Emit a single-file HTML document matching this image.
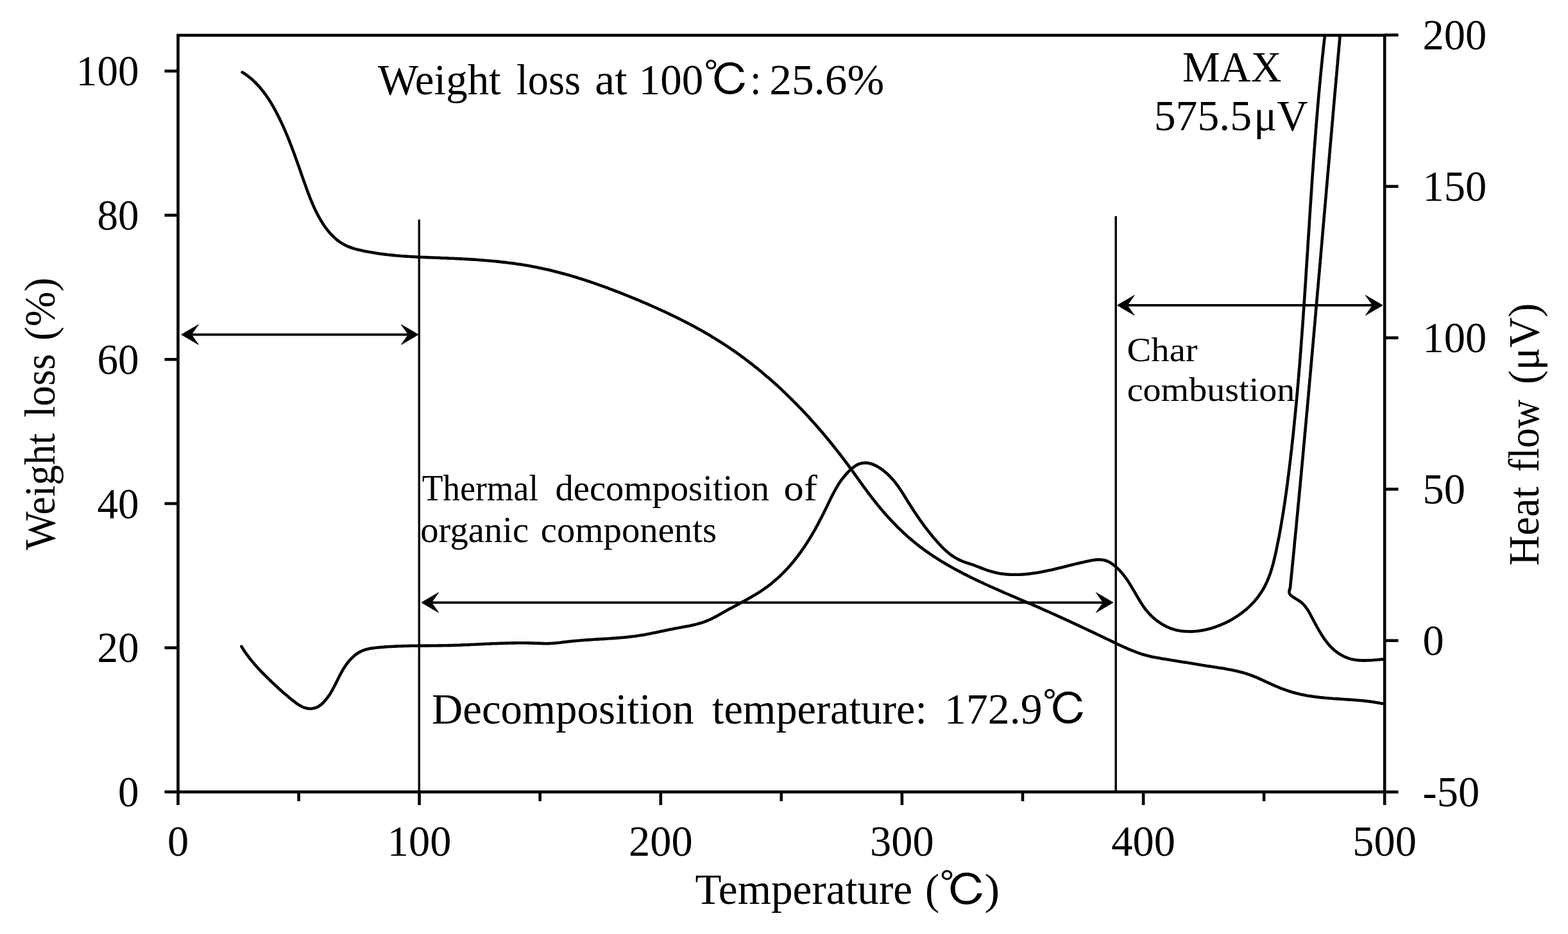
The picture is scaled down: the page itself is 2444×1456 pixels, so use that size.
<!DOCTYPE html><html><head><meta charset="utf-8"><style>html,body{margin:0;padding:0;background:#fff;}svg{display:block;}</style></head><body>
<svg width="2444" height="1456" viewBox="0 0 2444 1456">
<rect width="2444" height="1456" fill="#fff"/>
<defs><clipPath id="plot"><rect x="277.5" y="55.0" width="1880.7" height="1179.5"/></clipPath></defs>
<g stroke="#000" fill="none" stroke-width="4.6" stroke-linecap="butt">
<rect x="277.5" y="55.0" width="1880.7" height="1179.5"/>
<line x1="256.5" y1="1234.5" x2="277.5" y2="1234.5"/>
<line x1="256.5" y1="1009.8" x2="277.5" y2="1009.8"/>
<line x1="256.5" y1="785.0" x2="277.5" y2="785.0"/>
<line x1="256.5" y1="560.3" x2="277.5" y2="560.3"/>
<line x1="256.5" y1="335.5" x2="277.5" y2="335.5"/>
<line x1="256.5" y1="110.8" x2="277.5" y2="110.8"/>
<line x1="2158.2" y1="1234.6" x2="2179.5" y2="1234.6"/>
<line x1="2158.2" y1="998.6" x2="2179.5" y2="998.6"/>
<line x1="2158.2" y1="762.6" x2="2179.5" y2="762.6"/>
<line x1="2158.2" y1="526.6" x2="2179.5" y2="526.6"/>
<line x1="2158.2" y1="290.6" x2="2179.5" y2="290.6"/>
<line x1="2158.2" y1="54.6" x2="2179.5" y2="54.6"/>
<line x1="277.5" y1="1234.5" x2="277.5" y2="1255.0"/>
<line x1="465.6" y1="1234.5" x2="465.6" y2="1249.0"/>
<line x1="653.6" y1="1234.5" x2="653.6" y2="1255.0"/>
<line x1="841.7" y1="1234.5" x2="841.7" y2="1249.0"/>
<line x1="1029.8" y1="1234.5" x2="1029.8" y2="1255.0"/>
<line x1="1217.8" y1="1234.5" x2="1217.8" y2="1249.0"/>
<line x1="1405.9" y1="1234.5" x2="1405.9" y2="1255.0"/>
<line x1="1594.0" y1="1234.5" x2="1594.0" y2="1249.0"/>
<line x1="1782.1" y1="1234.5" x2="1782.1" y2="1255.0"/>
<line x1="1970.1" y1="1234.5" x2="1970.1" y2="1249.0"/>
<line x1="2158.2" y1="1234.5" x2="2158.2" y2="1255.0"/>
</g>
<g stroke="#000" fill="none" stroke-width="4.6" stroke-linejoin="round" stroke-linecap="round" clip-path="url(#plot)">
<path d="M377.6,112.6 L380.2,114.2 L382.7,115.9 L385.1,117.7 L387.5,119.5 L389.9,121.4 L392.2,123.3 L394.4,125.3 L396.6,127.4 L398.7,129.5 L400.8,131.6 L402.8,133.8 L404.8,136.0 L406.7,138.3 L408.6,140.6 L410.5,143.0 L412.3,145.4 L414.1,147.8 L415.8,150.3 L417.5,152.8 L419.2,155.3 L420.8,157.8 L422.4,160.4 L423.9,163.0 L425.5,165.6 L426.9,168.2 L428.4,170.9 L429.9,173.5 L431.3,176.2 L432.7,178.9 L434.0,181.6 L435.4,184.3 L436.7,187.0 L438.0,189.7 L439.2,192.4 L440.5,195.1 L441.7,197.8 L443.0,200.6 L444.2,203.3 L445.3,206.1 L446.5,208.8 L447.7,211.6 L448.8,214.4 L449.9,217.1 L451.0,219.9 L452.1,222.7 L453.2,225.5 L454.3,228.3 L455.3,231.1 L456.4,233.9 L457.4,236.7 L458.5,239.5 L459.5,242.3 L460.5,245.2 L461.5,248.0 L462.6,250.8 L463.6,253.6 L464.6,256.5 L465.6,259.3 L466.6,262.1 L467.6,265.0 L468.6,267.8 L469.5,270.6 L470.5,273.5 L471.5,276.3 L472.5,279.2 L473.5,282.0 L474.5,284.8 L475.6,287.7 L476.6,290.5 L477.6,293.4 L478.6,296.2 L479.7,299.0 L480.7,301.9 L481.8,304.7 L482.9,307.5 L484.0,310.3 L485.2,313.1 L486.3,315.9 L487.5,318.7 L488.7,321.4 L490.0,324.2 L491.2,326.9 L492.5,329.6 L493.9,332.3 L495.3,335.0 L496.7,337.6 L498.2,340.2 L499.7,342.9 L501.3,345.4 L502.9,348.0 L504.5,350.5 L506.2,353.0 L508.0,355.5 L509.8,357.9 L511.7,360.3 L513.6,362.6 L515.6,364.8 L517.7,367.0 L519.8,369.1 L522.0,371.1 L524.2,373.1 L526.5,374.9 L528.9,376.7 L531.3,378.3 L533.8,379.9 L536.4,381.3 L539.0,382.7 L541.7,383.9 L544.5,385.0 L547.3,386.0 L550.1,387.0 L553.0,387.9 L555.9,388.7 L558.9,389.4 L561.9,390.1 L564.8,390.8 L567.8,391.4 L570.8,392.0 L573.8,392.6 L576.8,393.1 L579.8,393.6 L582.7,394.1 L585.7,394.6 L588.7,395.0 L591.7,395.5 L594.7,395.9 L597.7,396.3 L600.7,396.6 L603.6,397.0 L606.6,397.3 L609.6,397.6 L612.6,397.9 L615.6,398.2 L618.6,398.5 L621.6,398.7 L624.5,399.0 L627.5,399.2 L630.5,399.4 L633.5,399.6 L636.5,399.8 L639.5,400.0 L642.5,400.1 L645.5,400.3 L648.5,400.5 L651.5,400.6 L654.4,400.7 L657.4,400.9 L660.4,401.0 L663.4,401.1 L666.4,401.3 L669.4,401.4 L672.4,401.5 L675.4,401.6 L678.4,401.7 L681.4,401.8 L684.4,401.9 L687.4,402.1 L690.4,402.2 L693.4,402.3 L696.4,402.4 L699.4,402.6 L702.5,402.7 L705.5,402.8 L708.5,403.0 L711.5,403.1 L714.5,403.2 L717.5,403.4 L720.5,403.6 L723.5,403.7 L726.5,403.9 L729.5,404.1 L732.5,404.3 L735.5,404.4 L738.6,404.6 L741.6,404.8 L744.6,405.0 L747.6,405.3 L750.6,405.5 L753.6,405.7 L756.6,406.0 L759.6,406.2 L762.6,406.5 L765.6,406.8 L768.6,407.0 L771.6,407.3 L774.6,407.6 L777.6,407.9 L780.6,408.3 L783.6,408.6 L786.6,408.9 L789.5,409.3 L792.5,409.7 L795.5,410.0 L798.5,410.4 L801.5,410.8 L804.4,411.3 L807.4,411.7 L810.4,412.1 L813.3,412.6 L816.3,413.1 L819.3,413.6 L822.2,414.1 L825.2,414.6 L828.1,415.1 L831.1,415.7 L834.0,416.2 L837.0,416.8 L839.9,417.4 L842.8,418.0 L845.8,418.7 L848.7,419.3 L851.6,420.0 L854.5,420.6 L857.5,421.3 L860.4,422.0 L863.3,422.7 L866.2,423.5 L869.1,424.2 L872.0,425.0 L874.9,425.7 L877.8,426.5 L880.7,427.3 L883.6,428.1 L886.5,428.9 L889.3,429.8 L892.2,430.6 L895.1,431.5 L898.0,432.3 L900.8,433.2 L903.7,434.1 L906.6,435.0 L909.4,435.9 L912.3,436.8 L915.1,437.8 L918.0,438.7 L920.8,439.7 L923.7,440.6 L926.5,441.6 L929.4,442.6 L932.2,443.6 L935.0,444.6 L937.9,445.6 L940.7,446.6 L943.5,447.7 L946.4,448.7 L949.2,449.8 L952.0,450.8 L954.8,451.9 L957.6,453.0 L960.4,454.0 L963.3,455.1 L966.1,456.2 L968.9,457.3 L971.7,458.4 L974.5,459.6 L977.3,460.7 L980.1,461.8 L982.8,462.9 L985.6,464.1 L988.4,465.2 L991.2,466.4 L994.0,467.5 L996.8,468.7 L999.5,469.9 L1002.3,471.1 L1005.1,472.2 L1007.9,473.4 L1010.6,474.6 L1013.4,475.8 L1016.1,477.0 L1018.9,478.3 L1021.7,479.5 L1024.4,480.7 L1027.1,482.0 L1029.9,483.2 L1032.6,484.5 L1035.4,485.7 L1038.1,487.0 L1040.8,488.3 L1043.5,489.6 L1046.2,490.9 L1048.9,492.2 L1051.7,493.5 L1054.3,494.8 L1057.0,496.1 L1059.7,497.5 L1062.4,498.8 L1065.1,500.2 L1067.8,501.6 L1070.4,502.9 L1073.1,504.3 L1075.8,505.7 L1078.4,507.1 L1081.1,508.6 L1083.7,510.0 L1086.3,511.4 L1089.0,512.9 L1091.6,514.3 L1094.2,515.8 L1096.8,517.3 L1099.4,518.8 L1102.0,520.3 L1104.6,521.8 L1107.2,523.3 L1109.7,524.9 L1112.3,526.4 L1114.9,528.0 L1117.4,529.6 L1119.9,531.2 L1122.5,532.8 L1125.0,534.4 L1127.5,536.0 L1130.0,537.6 L1132.5,539.3 L1135.0,540.9 L1137.5,542.6 L1140.0,544.3 L1142.5,546.0 L1144.9,547.7 L1147.4,549.4 L1149.8,551.2 L1152.3,552.9 L1154.7,554.7 L1157.1,556.5 L1159.5,558.2 L1161.9,560.0 L1164.3,561.8 L1166.7,563.7 L1169.1,565.5 L1171.5,567.3 L1173.8,569.2 L1176.2,571.1 L1178.5,572.9 L1180.9,574.8 L1183.2,576.7 L1185.5,578.6 L1187.8,580.5 L1190.1,582.5 L1192.4,584.4 L1194.7,586.4 L1197.0,588.3 L1199.3,590.3 L1201.6,592.3 L1203.8,594.3 L1206.1,596.3 L1208.3,598.3 L1210.5,600.3 L1212.8,602.3 L1215.0,604.4 L1217.2,606.4 L1219.4,608.5 L1221.6,610.5 L1223.7,612.6 L1225.9,614.7 L1228.1,616.8 L1230.2,618.9 L1232.4,621.0 L1234.5,623.1 L1236.7,625.3 L1238.8,627.4 L1240.9,629.5 L1243.0,631.7 L1245.1,633.8 L1247.2,636.0 L1249.3,638.2 L1251.4,640.4 L1253.4,642.6 L1255.5,644.8 L1257.5,647.0 L1259.6,649.2 L1261.6,651.4 L1263.6,653.6 L1265.6,655.9 L1267.6,658.1 L1269.6,660.3 L1271.6,662.6 L1273.6,664.9 L1275.6,667.1 L1277.6,669.4 L1279.5,671.7 L1281.5,674.0 L1283.4,676.3 L1285.4,678.6 L1287.3,680.9 L1289.2,683.2 L1291.1,685.5 L1293.0,687.8 L1294.9,690.2 L1296.8,692.5 L1298.7,694.9 L1300.6,697.2 L1302.4,699.6 L1304.3,701.9 L1306.1,704.3 L1308.0,706.6 L1309.8,709.0 L1311.7,711.4 L1313.5,713.8 L1315.3,716.2 L1317.1,718.6 L1318.9,721.0 L1320.7,723.4 L1322.5,725.8 L1324.2,728.2 L1326.0,730.6 L1327.8,733.0 L1329.5,735.5 L1331.3,737.9 L1333.0,740.3 L1334.8,742.8 L1336.5,745.2 L1338.3,747.6 L1340.0,750.1 L1341.7,752.5 L1343.5,754.9 L1345.2,757.4 L1347.0,759.8 L1348.8,762.2 L1350.6,764.6 L1352.3,767.0 L1354.1,769.4 L1356.0,771.8 L1357.8,774.2 L1359.6,776.6 L1361.5,779.0 L1363.4,781.4 L1365.2,783.7 L1367.1,786.1 L1369.0,788.4 L1371.0,790.7 L1372.9,793.1 L1374.9,795.4 L1376.8,797.7 L1378.8,799.9 L1380.8,802.2 L1382.8,804.5 L1384.8,806.7 L1386.9,808.9 L1388.9,811.2 L1391.0,813.4 L1393.1,815.5 L1395.2,817.7 L1397.3,819.9 L1399.4,822.0 L1401.6,824.1 L1403.8,826.2 L1405.9,828.3 L1408.1,830.3 L1410.3,832.4 L1412.5,834.4 L1414.8,836.4 L1417.0,838.4 L1419.3,840.3 L1421.6,842.3 L1423.9,844.2 L1426.2,846.1 L1428.5,848.0 L1430.9,849.8 L1433.2,851.6 L1435.6,853.5 L1438.0,855.2 L1440.4,857.0 L1442.8,858.8 L1445.3,860.5 L1447.7,862.2 L1450.2,863.9 L1452.7,865.5 L1455.1,867.2 L1457.6,868.8 L1460.1,870.4 L1462.7,872.0 L1465.2,873.6 L1467.7,875.2 L1470.3,876.7 L1472.9,878.3 L1475.4,879.8 L1478.0,881.3 L1480.6,882.8 L1483.2,884.3 L1485.9,885.7 L1488.5,887.2 L1491.1,888.6 L1493.8,890.0 L1496.4,891.4 L1499.1,892.8 L1501.7,894.2 L1504.4,895.6 L1507.1,896.9 L1509.8,898.3 L1512.5,899.6 L1515.2,901.0 L1517.9,902.3 L1520.6,903.6 L1523.3,904.9 L1526.1,906.2 L1528.8,907.5 L1531.5,908.7 L1534.3,910.0 L1537.0,911.3 L1539.8,912.5 L1542.5,913.8 L1545.3,915.0 L1548.0,916.2 L1550.8,917.5 L1553.6,918.7 L1556.3,919.9 L1559.1,921.1 L1561.9,922.3 L1564.6,923.6 L1567.4,924.8 L1570.2,926.0 L1573.0,927.2 L1575.7,928.4 L1578.5,929.5 L1581.3,930.7 L1584.1,931.9 L1586.9,933.1 L1589.6,934.3 L1592.4,935.5 L1595.2,936.7 L1598.0,937.9 L1600.7,939.1 L1603.5,940.3 L1606.3,941.4 L1609.0,942.6 L1611.8,943.8 L1614.5,945.0 L1617.3,946.2 L1620.0,947.4 L1622.8,948.7 L1625.5,949.9 L1628.3,951.1 L1631.0,952.3 L1633.8,953.5 L1636.5,954.7 L1639.2,956.0 L1642.0,957.2 L1644.7,958.4 L1647.4,959.6 L1650.1,960.9 L1652.8,962.1 L1655.6,963.4 L1658.3,964.6 L1661.0,965.8 L1663.7,967.1 L1666.4,968.3 L1669.1,969.6 L1671.9,970.9 L1674.6,972.1 L1677.3,973.4 L1680.0,974.6 L1682.7,975.9 L1685.4,977.2 L1688.1,978.5 L1690.8,979.7 L1693.5,981.0 L1696.3,982.3 L1699.0,983.6 L1701.7,984.8 L1704.4,986.1 L1707.1,987.4 L1709.8,988.7 L1712.5,990.0 L1715.2,991.3 L1718.0,992.6 L1720.7,993.9 L1723.4,995.2 L1726.1,996.5 L1728.8,997.8 L1731.6,999.1 L1734.3,1000.4 L1737.0,1001.8 L1739.7,1003.1 L1742.5,1004.4 L1745.2,1005.7 L1748.0,1006.9 L1750.7,1008.2 L1753.5,1009.4 L1756.2,1010.6 L1759.0,1011.8 L1761.8,1013.0 L1764.6,1014.1 L1767.4,1015.2 L1770.2,1016.3 L1773.0,1017.3 L1775.8,1018.3 L1778.7,1019.3 L1781.5,1020.2 L1784.4,1021.0 L1787.2,1021.8 L1790.1,1022.5 L1793.0,1023.2 L1795.9,1023.9 L1798.9,1024.5 L1801.8,1025.1 L1804.7,1025.6 L1807.7,1026.1 L1810.6,1026.7 L1813.6,1027.1 L1816.5,1027.6 L1819.5,1028.1 L1822.4,1028.5 L1825.4,1029.0 L1828.4,1029.5 L1831.3,1029.9 L1834.3,1030.4 L1837.3,1030.9 L1840.2,1031.4 L1843.2,1031.9 L1846.1,1032.4 L1849.1,1032.8 L1852.1,1033.3 L1855.0,1033.8 L1858.0,1034.3 L1861.0,1034.8 L1864.0,1035.3 L1866.9,1035.8 L1869.9,1036.3 L1872.9,1036.8 L1875.9,1037.2 L1878.9,1037.7 L1881.8,1038.2 L1884.8,1038.6 L1887.8,1039.1 L1890.8,1039.5 L1893.8,1040.0 L1896.8,1040.4 L1899.8,1040.9 L1902.8,1041.4 L1905.7,1041.8 L1908.7,1042.3 L1911.7,1042.9 L1914.6,1043.4 L1917.6,1044.0 L1920.5,1044.5 L1923.5,1045.2 L1926.4,1045.8 L1929.3,1046.5 L1932.2,1047.2 L1935.1,1048.0 L1938.0,1048.8 L1940.8,1049.6 L1943.7,1050.5 L1946.5,1051.4 L1949.3,1052.4 L1952.1,1053.5 L1954.9,1054.6 L1957.7,1055.7 L1960.4,1056.9 L1963.2,1058.1 L1965.9,1059.4 L1968.6,1060.6 L1971.4,1061.9 L1974.1,1063.2 L1976.8,1064.4 L1979.6,1065.7 L1982.3,1066.9 L1985.1,1068.1 L1987.8,1069.3 L1990.6,1070.5 L1993.4,1071.7 L1996.1,1072.8 L1998.9,1073.9 L2001.7,1074.9 L2004.5,1075.9 L2007.4,1076.9 L2010.2,1077.8 L2013.0,1078.7 L2015.9,1079.5 L2018.8,1080.3 L2021.7,1081.1 L2024.6,1081.8 L2027.5,1082.4 L2030.4,1083.0 L2033.3,1083.6 L2036.3,1084.2 L2039.2,1084.7 L2042.2,1085.1 L2045.2,1085.6 L2048.1,1086.0 L2051.1,1086.4 L2054.1,1086.7 L2057.1,1087.1 L2060.1,1087.4 L2063.1,1087.7 L2066.1,1088.0 L2069.1,1088.2 L2072.1,1088.5 L2075.2,1088.7 L2078.2,1089.0 L2081.2,1089.2 L2084.2,1089.4 L2087.3,1089.6 L2090.3,1089.8 L2093.3,1090.0 L2096.3,1090.2 L2099.4,1090.4 L2102.4,1090.6 L2105.4,1090.8 L2108.4,1091.0 L2111.5,1091.2 L2114.5,1091.5 L2117.5,1091.7 L2120.5,1092.0 L2123.5,1092.3 L2126.5,1092.6 L2129.5,1092.9 L2132.4,1093.2 L2135.4,1093.6 L2138.4,1094.0 L2141.3,1094.4 L2144.3,1094.9 L2147.2,1095.4 L2150.2,1095.9 L2153.1,1096.4 L2156.0,1097.0"/>
<path d="M376.4,1007.8 L378.0,1010.4 L379.6,1012.9 L381.2,1015.4 L382.9,1017.9 L384.7,1020.3 L386.5,1022.7 L388.3,1025.1 L390.1,1027.5 L392.0,1029.8 L393.9,1032.1 L395.9,1034.4 L397.9,1036.7 L399.9,1039.0 L401.9,1041.2 L403.9,1043.4 L406.0,1045.6 L408.1,1047.8 L410.2,1049.9 L412.3,1052.1 L414.4,1054.2 L416.6,1056.3 L418.7,1058.4 L420.9,1060.5 L423.0,1062.6 L425.2,1064.6 L427.4,1066.7 L429.6,1068.7 L431.7,1070.7 L433.9,1072.7 L436.1,1074.7 L438.3,1076.7 L440.6,1078.7 L442.8,1080.7 L445.1,1082.6 L447.4,1084.6 L449.7,1086.5 L452.0,1088.5 L454.4,1090.4 L456.8,1092.3 L459.3,1094.2 L461.7,1096.1 L464.3,1097.9 L466.9,1099.5 L469.5,1101.0 L472.2,1102.3 L475.0,1103.3 L477.9,1104.1 L480.8,1104.5 L483.6,1104.7 L486.5,1104.6 L489.3,1104.1 L492.1,1103.3 L494.7,1102.2 L497.3,1100.7 L499.7,1099.0 L502.1,1097.0 L504.3,1094.8 L506.4,1092.5 L508.4,1090.1 L510.3,1087.7 L512.1,1085.2 L513.8,1082.7 L515.4,1080.2 L516.9,1077.6 L518.4,1075.0 L519.8,1072.3 L521.2,1069.7 L522.6,1067.0 L523.9,1064.3 L525.3,1061.7 L526.6,1059.0 L527.9,1056.3 L529.3,1053.6 L530.7,1050.9 L532.1,1048.3 L533.6,1045.6 L535.1,1043.0 L536.7,1040.5 L538.4,1037.9 L540.2,1035.4 L542.0,1033.0 L543.9,1030.6 L545.9,1028.3 L548.0,1026.1 L550.2,1024.1 L552.4,1022.1 L554.8,1020.2 L557.2,1018.5 L559.7,1017.0 L562.3,1015.6 L565.0,1014.4 L567.7,1013.3 L570.5,1012.4 L573.4,1011.7 L576.3,1011.1 L579.3,1010.6 L582.3,1010.2 L585.4,1009.8 L588.4,1009.5 L591.4,1009.2 L594.5,1008.9 L597.5,1008.7 L600.5,1008.4 L603.5,1008.2 L606.6,1008.0 L609.6,1007.9 L612.6,1007.7 L615.6,1007.6 L618.6,1007.4 L621.6,1007.3 L624.6,1007.2 L627.6,1007.1 L630.7,1007.0 L633.7,1007.0 L636.7,1006.9 L639.7,1006.8 L642.6,1006.8 L645.6,1006.8 L648.6,1006.7 L651.6,1006.7 L654.6,1006.7 L657.6,1006.6 L660.6,1006.6 L663.6,1006.6 L666.6,1006.6 L669.6,1006.6 L672.6,1006.5 L675.6,1006.5 L678.6,1006.5 L681.6,1006.5 L684.6,1006.4 L687.5,1006.4 L690.5,1006.3 L693.5,1006.3 L696.5,1006.2 L699.5,1006.1 L702.5,1006.1 L705.5,1006.0 L708.5,1005.9 L711.5,1005.8 L714.5,1005.7 L717.5,1005.6 L720.5,1005.4 L723.5,1005.3 L726.6,1005.2 L729.6,1005.1 L732.6,1004.9 L735.6,1004.8 L738.6,1004.7 L741.6,1004.5 L744.6,1004.4 L747.6,1004.2 L750.6,1004.1 L753.6,1004.0 L756.6,1003.8 L759.6,1003.7 L762.6,1003.6 L765.6,1003.4 L768.7,1003.3 L771.7,1003.2 L774.7,1003.1 L777.7,1003.0 L780.7,1002.9 L783.7,1002.8 L786.7,1002.7 L789.7,1002.6 L792.7,1002.5 L795.7,1002.5 L798.7,1002.4 L801.7,1002.4 L804.7,1002.3 L807.7,1002.3 L810.7,1002.3 L813.7,1002.3 L816.7,1002.3 L819.7,1002.3 L822.7,1002.4 L825.7,1002.4 L828.6,1002.5 L831.6,1002.6 L834.6,1002.7 L837.6,1002.8 L840.6,1002.9 L843.6,1003.0 L846.5,1003.1 L849.5,1003.2 L852.5,1003.2 L855.5,1003.1 L858.4,1003.0 L861.4,1002.8 L864.4,1002.6 L867.3,1002.3 L870.3,1002.0 L873.3,1001.7 L876.2,1001.3 L879.2,1000.9 L882.2,1000.6 L885.2,1000.2 L888.1,999.9 L891.1,999.6 L894.1,999.3 L897.1,999.0 L900.1,998.7 L903.1,998.5 L906.1,998.2 L909.1,998.0 L912.1,997.8 L915.1,997.6 L918.1,997.4 L921.1,997.2 L924.1,997.0 L927.1,996.8 L930.1,996.6 L933.1,996.4 L936.1,996.3 L939.1,996.1 L942.1,995.9 L945.1,995.7 L948.1,995.5 L951.1,995.3 L954.1,995.1 L957.1,994.9 L960.1,994.7 L963.1,994.4 L966.1,994.2 L969.1,993.9 L972.1,993.7 L975.1,993.4 L978.1,993.1 L981.0,992.7 L984.0,992.4 L987.0,992.0 L990.0,991.7 L992.9,991.2 L995.9,990.8 L998.9,990.3 L1001.8,989.9 L1004.8,989.4 L1007.7,988.8 L1010.7,988.3 L1013.6,987.7 L1016.5,987.1 L1019.5,986.5 L1022.4,985.9 L1025.4,985.3 L1028.3,984.7 L1031.2,984.1 L1034.2,983.5 L1037.1,982.8 L1040.1,982.2 L1043.0,981.6 L1046.0,981.0 L1048.9,980.4 L1051.9,979.8 L1054.8,979.3 L1057.8,978.7 L1060.8,978.2 L1063.7,977.6 L1066.7,977.1 L1069.7,976.5 L1072.6,975.9 L1075.6,975.4 L1078.5,974.7 L1081.4,974.1 L1084.3,973.4 L1087.2,972.6 L1090.1,971.8 L1093.0,971.0 L1095.8,970.1 L1098.6,969.1 L1101.4,968.0 L1104.1,966.9 L1106.9,965.7 L1109.6,964.4 L1112.3,963.0 L1114.9,961.6 L1117.6,960.2 L1120.2,958.7 L1122.8,957.2 L1125.5,955.7 L1128.1,954.2 L1130.8,952.7 L1133.4,951.3 L1136.1,949.8 L1138.7,948.4 L1141.4,947.0 L1144.0,945.5 L1146.7,944.1 L1149.3,942.7 L1152.0,941.3 L1154.6,939.8 L1157.2,938.4 L1159.9,937.0 L1162.5,935.5 L1165.1,934.1 L1167.7,932.6 L1170.3,931.1 L1172.9,929.6 L1175.5,928.1 L1178.0,926.5 L1180.6,925.0 L1183.1,923.4 L1185.6,921.8 L1188.1,920.1 L1190.6,918.4 L1193.0,916.7 L1195.4,915.0 L1197.8,913.2 L1200.2,911.3 L1202.6,909.5 L1204.9,907.6 L1207.2,905.6 L1209.5,903.6 L1211.7,901.6 L1214.0,899.6 L1216.2,897.5 L1218.3,895.4 L1220.5,893.3 L1222.6,891.1 L1224.7,888.9 L1226.8,886.7 L1228.8,884.5 L1230.8,882.2 L1232.8,880.0 L1234.7,877.7 L1236.7,875.4 L1238.6,873.0 L1240.4,870.7 L1242.3,868.3 L1244.1,865.9 L1245.9,863.5 L1247.7,861.1 L1249.4,858.7 L1251.1,856.2 L1252.8,853.8 L1254.5,851.3 L1256.1,848.8 L1257.8,846.3 L1259.4,843.8 L1261.0,841.2 L1262.5,838.7 L1264.1,836.1 L1265.6,833.6 L1267.1,831.0 L1268.6,828.4 L1270.1,825.8 L1271.5,823.2 L1273.0,820.5 L1274.4,817.9 L1275.8,815.3 L1277.2,812.6 L1278.6,809.9 L1280.0,807.3 L1281.4,804.6 L1282.7,801.9 L1284.1,799.2 L1285.4,796.5 L1286.7,793.8 L1288.1,791.1 L1289.4,788.4 L1290.7,785.7 L1292.0,783.0 L1293.3,780.2 L1294.6,777.5 L1296.0,774.8 L1297.3,772.1 L1298.7,769.5 L1300.1,766.8 L1301.6,764.2 L1303.0,761.5 L1304.6,759.0 L1306.1,756.4 L1307.7,753.8 L1309.4,751.3 L1311.1,748.9 L1312.9,746.4 L1314.8,744.0 L1316.7,741.7 L1318.7,739.4 L1320.8,737.1 L1322.9,734.9 L1325.2,732.7 L1327.5,730.6 L1329.9,728.7 L1332.4,726.9 L1334.9,725.3 L1337.5,723.9 L1340.2,722.9 L1342.9,722.1 L1345.6,721.7 L1348.4,721.5 L1351.1,721.6 L1353.9,722.0 L1356.7,722.7 L1359.5,723.5 L1362.3,724.6 L1365.0,725.9 L1367.8,727.4 L1370.4,729.0 L1373.1,730.7 L1375.7,732.6 L1378.2,734.6 L1380.7,736.7 L1383.1,738.8 L1385.4,741.0 L1387.6,743.2 L1389.7,745.5 L1391.7,747.8 L1393.7,750.1 L1395.6,752.4 L1397.4,754.8 L1399.2,757.2 L1400.9,759.6 L1402.5,762.0 L1404.2,764.4 L1405.8,766.9 L1407.3,769.3 L1408.9,771.8 L1410.4,774.3 L1412.0,776.8 L1413.5,779.3 L1415.0,781.8 L1416.6,784.3 L1418.2,786.8 L1419.8,789.3 L1421.4,791.8 L1423.0,794.3 L1424.6,796.8 L1426.3,799.3 L1428.0,801.8 L1429.7,804.3 L1431.4,806.8 L1433.1,809.3 L1434.9,811.8 L1436.6,814.2 L1438.4,816.7 L1440.2,819.1 L1442.0,821.6 L1443.9,824.0 L1445.7,826.4 L1447.6,828.8 L1449.5,831.2 L1451.4,833.5 L1453.3,835.9 L1455.2,838.2 L1457.2,840.5 L1459.2,842.8 L1461.2,845.0 L1463.2,847.3 L1465.2,849.5 L1467.3,851.6 L1469.4,853.8 L1471.5,855.8 L1473.7,857.9 L1475.9,859.8 L1478.1,861.7 L1480.4,863.6 L1482.8,865.3 L1485.2,867.0 L1487.7,868.6 L1490.2,870.1 L1492.8,871.6 L1495.5,872.9 L1498.2,874.2 L1501.0,875.3 L1503.9,876.3 L1506.8,877.3 L1509.7,878.3 L1512.6,879.2 L1515.5,880.2 L1518.4,881.2 L1521.2,882.3 L1524.1,883.4 L1526.9,884.5 L1529.7,885.5 L1532.4,886.6 L1535.2,887.7 L1538.0,888.7 L1540.9,889.6 L1543.7,890.5 L1546.6,891.3 L1549.5,892.1 L1552.4,892.7 L1555.4,893.4 L1558.3,893.9 L1561.2,894.4 L1564.2,894.8 L1567.2,895.1 L1570.2,895.4 L1573.2,895.6 L1576.1,895.7 L1579.1,895.8 L1582.1,895.8 L1585.1,895.8 L1588.2,895.7 L1591.2,895.6 L1594.2,895.4 L1597.2,895.2 L1600.2,894.9 L1603.2,894.6 L1606.2,894.2 L1609.2,893.8 L1612.2,893.4 L1615.2,893.0 L1618.1,892.5 L1621.1,891.9 L1624.1,891.4 L1627.0,890.8 L1630.0,890.2 L1632.9,889.6 L1635.8,889.0 L1638.7,888.4 L1641.7,887.7 L1644.6,887.0 L1647.5,886.3 L1650.4,885.6 L1653.3,884.9 L1656.2,884.2 L1659.1,883.5 L1662.0,882.8 L1664.9,882.0 L1667.8,881.3 L1670.7,880.6 L1673.6,879.9 L1676.5,879.1 L1679.5,878.4 L1682.4,877.7 L1685.4,877.0 L1688.3,876.4 L1691.3,875.7 L1694.3,875.0 L1697.3,874.4 L1700.3,873.8 L1703.3,873.3 L1706.3,872.9 L1709.3,872.6 L1712.3,872.4 L1715.2,872.5 L1718.1,872.7 L1720.9,873.2 L1723.7,874.0 L1726.4,875.0 L1729.1,876.3 L1731.6,877.8 L1734.1,879.5 L1736.5,881.3 L1738.9,883.3 L1741.1,885.3 L1743.3,887.4 L1745.4,889.5 L1747.4,891.8 L1749.4,894.1 L1751.3,896.4 L1753.2,898.9 L1755.0,901.3 L1756.7,903.8 L1758.4,906.3 L1760.1,908.9 L1761.7,911.5 L1763.3,914.1 L1764.8,916.7 L1766.4,919.3 L1767.9,921.9 L1769.4,924.5 L1770.9,927.1 L1772.4,929.6 L1773.9,932.2 L1775.4,934.7 L1776.9,937.3 L1778.5,939.8 L1780.1,942.2 L1781.7,944.7 L1783.4,947.1 L1785.2,949.5 L1787.0,951.8 L1788.9,954.1 L1790.9,956.3 L1793.0,958.5 L1795.1,960.6 L1797.4,962.7 L1799.7,964.7 L1802.0,966.6 L1804.5,968.5 L1807.0,970.2 L1809.5,971.9 L1812.1,973.5 L1814.8,975.0 L1817.5,976.4 L1820.2,977.7 L1823.0,978.9 L1825.8,980.0 L1828.7,980.9 L1831.6,981.7 L1834.5,982.4 L1837.4,983.0 L1840.3,983.5 L1843.3,983.9 L1846.3,984.2 L1849.2,984.3 L1852.2,984.5 L1855.2,984.5 L1858.1,984.4 L1861.1,984.3 L1864.1,984.0 L1867.0,983.7 L1870.0,983.3 L1873.0,982.9 L1875.9,982.3 L1878.8,981.7 L1881.8,981.1 L1884.7,980.3 L1887.6,979.5 L1890.5,978.6 L1893.3,977.7 L1896.2,976.7 L1899.0,975.6 L1901.8,974.5 L1904.6,973.4 L1907.4,972.1 L1910.2,970.9 L1912.9,969.5 L1915.6,968.1 L1918.2,966.7 L1920.9,965.2 L1923.5,963.6 L1926.0,962.0 L1928.6,960.4 L1931.1,958.7 L1933.5,956.9 L1936.0,955.1 L1938.3,953.3 L1940.7,951.4 L1943.0,949.4 L1945.2,947.4 L1947.4,945.4 L1949.5,943.3 L1951.6,941.2 L1953.7,939.0 L1955.7,936.8 L1957.6,934.5 L1959.5,932.2 L1961.3,929.8 L1963.0,927.4 L1964.7,925.0 L1966.4,922.5 L1967.9,920.0 L1969.4,917.5 L1970.9,914.9 L1972.2,912.3 L1973.5,909.6 L1974.8,906.9 L1975.9,904.2 L1977.1,901.4 L1978.1,898.6 L1979.2,895.8 L1980.2,893.0 L1981.1,890.1 L1982.0,887.3 L1982.8,884.4 L1983.7,881.5 L1984.5,878.5 L1985.2,875.6 L1985.9,872.7 L1986.7,869.7 L1987.3,866.7 L1988.0,863.8 L1988.7,860.8 L1989.3,857.8 L1989.9,854.9 L1990.5,851.9 L1991.1,848.9 L1991.7,845.9 L1992.3,843.0 L1992.9,840.0 L1993.5,837.0 L1994.0,834.1 L1994.6,831.1 L1995.1,828.1 L1995.7,825.2 L1996.2,822.2 L1996.7,819.2 L1997.2,816.3 L1997.7,813.3 L1998.2,810.3 L1998.7,807.4 L1999.2,804.4 L1999.7,801.4 L2000.2,798.5 L2000.6,795.5 L2001.1,792.5 L2001.5,789.6 L2002.0,786.6 L2002.4,783.6 L2002.9,780.7 L2003.3,777.7 L2003.7,774.7 L2004.1,771.8 L2004.6,768.8 L2005.0,765.8 L2005.4,762.9 L2005.8,759.9 L2006.2,756.9 L2006.6,754.0 L2006.9,751.0 L2007.3,748.0 L2007.7,745.1 L2008.1,742.1 L2008.5,739.1 L2008.8,736.1 L2009.2,733.2 L2009.6,730.2 L2009.9,727.2 L2010.3,724.3 L2010.7,721.3 L2011.0,718.3 L2011.4,715.3 L2011.7,712.4 L2012.1,709.4 L2012.4,706.4 L2012.7,703.4 L2013.1,700.5 L2013.4,697.5 L2013.7,694.5 L2014.1,691.5 L2014.4,688.5 L2014.7,685.6 L2015.1,682.6 L2015.4,679.6 L2015.7,676.6 L2016.0,673.6 L2016.3,670.7 L2016.6,667.7 L2016.9,664.7 L2017.2,661.7 L2017.5,658.7 L2017.8,655.7 L2018.1,652.7 L2018.4,649.8 L2018.7,646.8 L2019.0,643.8 L2019.3,640.8 L2019.6,637.8 L2019.9,634.8 L2020.2,631.8 L2020.4,628.9 L2020.7,625.9 L2021.0,622.9 L2021.3,619.9 L2021.5,616.9 L2021.8,613.9 L2022.1,610.9 L2022.3,607.9 L2022.6,604.9 L2022.9,601.9 L2023.1,599.0 L2023.4,596.0 L2023.6,593.0 L2023.9,590.0 L2024.1,587.0 L2024.4,584.0 L2024.6,581.0 L2024.9,578.0 L2025.1,575.0 L2025.4,572.0 L2025.6,569.0 L2025.9,566.0 L2026.1,563.0 L2026.3,560.0 L2026.6,557.0 L2026.8,554.0 L2027.0,551.0 L2027.3,548.0 L2027.5,545.1 L2027.7,542.1 L2028.0,539.1 L2028.2,536.1 L2028.4,533.1 L2028.6,530.1 L2028.9,527.1 L2029.1,524.1 L2029.3,521.1 L2029.5,518.1 L2029.7,515.1 L2030.0,512.1 L2030.2,509.1 L2030.4,506.1 L2030.6,503.1 L2030.8,500.1 L2031.0,497.1 L2031.2,494.1 L2031.4,491.1 L2031.6,488.1 L2031.9,485.1 L2032.1,482.1 L2032.3,479.1 L2032.5,476.1 L2032.7,473.1 L2032.9,470.1 L2033.1,467.1 L2033.3,464.1 L2033.5,461.1 L2033.7,458.1 L2033.9,455.0 L2034.1,452.0 L2034.3,449.0 L2034.5,446.0 L2034.7,443.0 L2034.9,440.0 L2035.1,437.0 L2035.3,434.0 L2035.5,431.0 L2035.7,428.0 L2035.8,425.0 L2036.0,422.0 L2036.2,419.0 L2036.4,416.0 L2036.6,413.0 L2036.8,410.0 L2037.0,407.0 L2037.2,404.0 L2037.4,401.0 L2037.6,398.0 L2037.8,395.0 L2038.0,392.0 L2038.2,389.0 L2038.4,386.0 L2038.5,383.0 L2038.7,380.0 L2038.9,377.0 L2039.1,374.0 L2039.3,371.0 L2039.5,368.0 L2039.7,365.0 L2039.9,362.0 L2040.1,358.9 L2040.3,355.9 L2040.5,352.9 L2040.7,349.9 L2040.8,346.9 L2041.0,343.9 L2041.2,340.9 L2041.4,337.9 L2041.6,334.9 L2041.8,331.9 L2042.0,328.9 L2042.2,325.9 L2042.4,322.9 L2042.6,319.9 L2042.8,316.9 L2043.0,313.9 L2043.2,310.9 L2043.4,307.9 L2043.6,304.9 L2043.8,301.9 L2044.0,298.9 L2044.2,295.9 L2044.4,292.9 L2044.6,289.9 L2044.8,286.9 L2045.0,283.9 L2045.2,280.9 L2045.4,277.9 L2045.6,274.9 L2045.8,271.9 L2046.0,268.9 L2046.3,265.9 L2046.5,262.9 L2046.7,259.9 L2046.9,256.9 L2047.1,253.9 L2047.3,250.9 L2047.5,247.9 L2047.8,244.9 L2048.0,241.9 L2048.2,238.9 L2048.4,235.9 L2048.6,232.9 L2048.9,229.9 L2049.1,226.9 L2049.3,223.9 L2049.5,220.9 L2049.8,217.9 L2050.0,214.9 L2050.2,212.0 L2050.5,209.0 L2050.7,206.0 L2050.9,203.0 L2051.2,200.0 L2051.4,197.0 L2051.6,194.0 L2051.9,191.0 L2052.1,188.0 L2052.4,185.0 L2052.6,182.0 L2052.9,179.0 L2053.1,176.0 L2053.4,173.0 L2053.6,170.1 L2053.9,167.1 L2054.1,164.1 L2054.4,161.1 L2054.7,158.1 L2054.9,155.1 L2055.2,152.1 L2055.4,149.1 L2055.7,146.1 L2056.0,143.2 L2056.3,140.2 L2056.5,137.2 L2056.8,134.2 L2057.1,131.2 L2057.4,128.2 L2057.7,125.2 L2057.9,122.3 L2058.2,119.3 L2058.5,116.3 L2058.8,113.3 L2059.1,110.3 L2059.4,107.4 L2059.7,104.4 L2060.0,101.4 L2060.3,98.4 L2060.6,95.4 L2060.9,92.4 L2061.2,89.5 L2061.5,86.5 L2061.9,83.5 L2062.2,80.5 L2062.5,77.6 L2062.8,74.6 L2063.1,71.6 L2063.5,68.6 L2063.8,65.7 L2064.1,62.7 L2064.5,59.7 L2064.8,56.7 L2065.2,53.8 L2065.5,50.8 L2065.9,47.8 L2066.2,44.8 L2066.6,41.9 L2066.9,38.9 L2067.3,35.9 L2067.6,33.0 L2068.0,30.0"/>
<path d="M2091.0,30.0 L2090.7,33.0 L2090.5,36.0 L2090.2,39.0 L2089.9,42.0 L2089.6,45.0 L2089.4,48.0 L2089.1,51.0 L2088.8,54.1 L2088.5,57.1 L2088.3,60.1 L2088.0,63.1 L2087.7,66.1 L2087.5,69.1 L2087.2,72.1 L2086.9,75.1 L2086.7,78.1 L2086.4,81.1 L2086.1,84.1 L2085.8,87.1 L2085.6,90.1 L2085.3,93.1 L2085.0,96.2 L2084.8,99.2 L2084.5,102.2 L2084.2,105.2 L2084.0,108.2 L2083.7,111.2 L2083.4,114.2 L2083.2,117.2 L2082.9,120.2 L2082.6,123.2 L2082.4,126.2 L2082.1,129.2 L2081.8,132.2 L2081.6,135.2 L2081.3,138.3 L2081.0,141.3 L2080.8,144.3 L2080.5,147.3 L2080.2,150.3 L2080.0,153.3 L2079.7,156.3 L2079.4,159.3 L2079.2,162.3 L2078.9,165.3 L2078.6,168.3 L2078.4,171.3 L2078.1,174.3 L2077.8,177.3 L2077.6,180.4 L2077.3,183.4 L2077.1,186.4 L2076.8,189.4 L2076.5,192.4 L2076.3,195.4 L2076.0,198.4 L2075.7,201.4 L2075.5,204.4 L2075.2,207.4 L2074.9,210.4 L2074.7,213.4 L2074.4,216.4 L2074.2,219.5 L2073.9,222.5 L2073.6,225.5 L2073.4,228.5 L2073.1,231.5 L2072.8,234.5 L2072.6,237.5 L2072.3,240.5 L2072.1,243.5 L2071.8,246.5 L2071.5,249.5 L2071.3,252.5 L2071.0,255.5 L2070.7,258.6 L2070.5,261.6 L2070.2,264.6 L2070.0,267.6 L2069.7,270.6 L2069.4,273.6 L2069.2,276.6 L2068.9,279.6 L2068.6,282.6 L2068.4,285.6 L2068.1,288.6 L2067.9,291.6 L2067.6,294.6 L2067.3,297.7 L2067.1,300.7 L2066.8,303.7 L2066.6,306.7 L2066.3,309.7 L2066.0,312.7 L2065.8,315.7 L2065.5,318.7 L2065.2,321.7 L2065.0,324.7 L2064.7,327.7 L2064.5,330.7 L2064.2,333.7 L2063.9,336.8 L2063.7,339.8 L2063.4,342.8 L2063.2,345.8 L2062.9,348.8 L2062.6,351.8 L2062.4,354.8 L2062.1,357.8 L2061.8,360.8 L2061.6,363.8 L2061.3,366.8 L2061.1,369.8 L2060.8,372.8 L2060.5,375.9 L2060.3,378.9 L2060.0,381.9 L2059.8,384.9 L2059.5,387.9 L2059.2,390.9 L2059.0,393.9 L2058.7,396.9 L2058.5,399.9 L2058.2,402.9 L2057.9,405.9 L2057.7,408.9 L2057.4,411.9 L2057.1,415.0 L2056.9,418.0 L2056.6,421.0 L2056.4,424.0 L2056.1,427.0 L2055.8,430.0 L2055.6,433.0 L2055.3,436.0 L2055.0,439.0 L2054.8,442.0 L2054.5,445.0 L2054.3,448.0 L2054.0,451.0 L2053.7,454.1 L2053.5,457.1 L2053.2,460.1 L2052.9,463.1 L2052.7,466.1 L2052.4,469.1 L2052.2,472.1 L2051.9,475.1 L2051.6,478.1 L2051.4,481.1 L2051.1,484.1 L2050.8,487.1 L2050.6,490.1 L2050.3,493.2 L2050.0,496.2 L2049.8,499.2 L2049.5,502.2 L2049.3,505.2 L2049.0,508.2 L2048.7,511.2 L2048.5,514.2 L2048.2,517.2 L2047.9,520.2 L2047.7,523.2 L2047.4,526.2 L2047.1,529.2 L2046.9,532.2 L2046.6,535.3 L2046.3,538.3 L2046.1,541.3 L2045.8,544.3 L2045.5,547.3 L2045.3,550.3 L2045.0,553.3 L2044.7,556.3 L2044.5,559.3 L2044.2,562.3 L2043.9,565.3 L2043.7,568.3 L2043.4,571.3 L2043.1,574.3 L2042.9,577.4 L2042.6,580.4 L2042.3,583.4 L2042.1,586.4 L2041.8,589.4 L2041.5,592.4 L2041.2,595.4 L2041.0,598.4 L2040.7,601.4 L2040.4,604.4 L2040.2,607.4 L2039.9,610.4 L2039.6,613.4 L2039.4,616.4 L2039.1,619.5 L2038.8,622.5 L2038.5,625.5 L2038.3,628.5 L2038.0,631.5 L2037.7,634.5 L2037.5,637.5 L2037.2,640.5 L2036.9,643.5 L2036.6,646.5 L2036.4,649.5 L2036.1,652.5 L2035.8,655.5 L2035.6,658.5 L2035.3,661.5 L2035.0,664.6 L2034.7,667.6 L2034.5,670.6 L2034.2,673.6 L2033.9,676.6 L2033.6,679.6 L2033.4,682.6 L2033.1,685.6 L2032.8,688.6 L2032.5,691.6 L2032.2,694.6 L2032.0,697.6 L2031.7,700.6 L2031.4,703.6 L2031.1,706.6 L2030.9,709.6 L2030.6,712.7 L2030.3,715.7 L2030.0,718.7 L2029.7,721.7 L2029.5,724.7 L2029.2,727.7 L2028.9,730.7 L2028.6,733.7 L2028.3,736.7 L2028.1,739.7 L2027.8,742.7 L2027.5,745.7 L2027.2,748.7 L2026.9,751.7 L2026.7,754.7 L2026.4,757.7 L2026.1,760.7 L2025.8,763.8 L2025.5,766.8 L2025.2,769.8 L2025.0,772.8 L2024.7,775.8 L2024.4,778.8 L2024.1,781.8 L2023.8,784.8 L2023.5,787.8 L2023.2,790.8 L2023.0,793.8 L2022.7,796.8 L2022.4,799.8 L2022.1,802.8 L2021.8,805.8 L2021.5,808.8 L2021.2,811.8 L2020.9,814.8 L2020.7,817.9 L2020.4,820.9 L2020.1,823.9 L2019.8,826.9 L2019.5,829.9 L2019.2,832.9 L2018.9,835.9 L2018.6,838.9 L2018.3,841.9 L2018.0,844.9 L2017.7,847.9 L2017.5,850.9 L2017.2,853.9 L2016.9,856.9 L2016.6,859.9 L2016.3,862.9 L2016.0,865.9 L2015.7,868.9 L2015.4,871.9 L2015.1,874.9 L2014.8,877.9 L2014.5,881.0 L2014.2,884.0 L2013.9,887.0 L2013.6,890.0 L2013.3,893.0 L2013.0,896.0 L2012.7,899.0 L2012.4,902.0 L2012.1,905.0 L2011.8,908.0 L2011.5,911.0 L2011.2,914.0 L2010.9,917.0"/>
<path d="M2010.9,917.0 L2009.5,920.9 L2009.5,924.0 L2010.5,926.5 L2012.4,928.5 L2014.6,930.2 L2017.1,931.8 L2019.7,933.4 L2022.4,935.0 L2025.0,936.7 L2027.6,938.5 L2029.9,940.5 L2032.1,942.6 L2034.1,944.9 L2035.9,947.3 L2037.7,949.8 L2039.3,952.4 L2040.9,955.1 L2042.4,957.8 L2043.8,960.6 L2045.3,963.3 L2046.8,966.1 L2048.2,968.8 L2049.7,971.6 L2051.2,974.3 L2052.6,977.0 L2054.1,979.7 L2055.7,982.4 L2057.2,985.0 L2058.8,987.6 L2060.4,990.2 L2062.1,992.8 L2063.7,995.3 L2065.5,997.7 L2067.3,1000.2 L2069.2,1002.5 L2071.1,1004.9 L2073.1,1007.1 L2075.3,1009.3 L2077.5,1011.5 L2079.8,1013.5 L2082.2,1015.5 L2084.8,1017.4 L2087.4,1019.1 L2090.0,1020.8 L2092.8,1022.3 L2095.5,1023.7 L2098.4,1024.9 L2101.3,1026.0 L2104.2,1026.9 L2107.1,1027.7 L2110.1,1028.3 L2113.1,1028.8 L2116.1,1029.1 L2119.1,1029.4 L2122.2,1029.5 L2125.2,1029.6 L2128.3,1029.6 L2131.4,1029.5 L2134.5,1029.4 L2137.6,1029.2 L2140.7,1029.0 L2143.7,1028.7 L2146.8,1028.5 L2149.9,1028.2 L2153.0,1027.9 L2156.0,1027.7"/>
</g>
<g stroke="#000" fill="none" stroke-width="3.4">
<line x1="653.3" y1="342.2" x2="653.3" y2="1234"/>
<line x1="1739.2" y1="337" x2="1739.2" y2="1234"/>
</g>
<g stroke="#000" fill="none" stroke-width="3.8">
<line x1="290" y1="521.6" x2="645" y2="521.6"/>
<line x1="665" y1="939.3" x2="1728" y2="939.3"/>
<line x1="1750" y1="475.9" x2="2147" y2="475.9"/>
</g>
<polygon points="282.8,521.6 309.3,506.1 298.3,521.6 309.3,537.1" fill="#000" stroke="#000" stroke-width="1.0" stroke-linejoin="round"/>
<polygon points="652.0,521.6 625.5,506.1 636.5,521.6 625.5,537.1" fill="#000" stroke="#000" stroke-width="1.0" stroke-linejoin="round"/>
<polygon points="657.0,939.3 683.5,923.8 672.5,939.3 683.5,954.8" fill="#000" stroke="#000" stroke-width="1.0" stroke-linejoin="round"/>
<polygon points="1735.0,939.3 1708.5,923.8 1719.5,939.3 1708.5,954.8" fill="#000" stroke="#000" stroke-width="1.0" stroke-linejoin="round"/>
<polygon points="1741.6,475.9 1768.1,460.4 1757.1,475.9 1768.1,491.4" fill="#000" stroke="#000" stroke-width="1.0" stroke-linejoin="round"/>
<polygon points="2155.0,475.9 2128.5,460.4 2139.5,475.9 2128.5,491.4" fill="#000" stroke="#000" stroke-width="1.0" stroke-linejoin="round"/>
<g fill="#000">
<text transform='translate(216.5,1257.0) scale(0.965,1)' font-family='"Liberation Serif", serif' font-size='67.5' text-anchor='end'>0</text>
<text transform='translate(216.5,1032.3) scale(0.965,1)' font-family='"Liberation Serif", serif' font-size='67.5' text-anchor='end'>20</text>
<text transform='translate(216.5,807.5) scale(0.965,1)' font-family='"Liberation Serif", serif' font-size='67.5' text-anchor='end'>40</text>
<text transform='translate(216.5,582.8) scale(0.965,1)' font-family='"Liberation Serif", serif' font-size='67.5' text-anchor='end'>60</text>
<text transform='translate(216.5,358.0) scale(0.965,1)' font-family='"Liberation Serif", serif' font-size='67.5' text-anchor='end'>80</text>
<text transform='translate(216.5,133.3) scale(0.965,1)' font-family='"Liberation Serif", serif' font-size='67.5' text-anchor='end'>100</text>
<text transform='translate(2217.5,1257.1) scale(0.985,1)' font-family='"Liberation Serif", serif' font-size='67.5'>-50</text>
<text transform='translate(2217.5,1021.1) scale(0.985,1)' font-family='"Liberation Serif", serif' font-size='67.5'>0</text>
<text transform='translate(2217.5,785.1) scale(0.985,1)' font-family='"Liberation Serif", serif' font-size='67.5'>50</text>
<text transform='translate(2217.5,549.1) scale(0.985,1)' font-family='"Liberation Serif", serif' font-size='67.5'>100</text>
<text transform='translate(2217.5,313.1) scale(0.985,1)' font-family='"Liberation Serif", serif' font-size='67.5'>150</text>
<text transform='translate(2217.5,77.1) scale(0.985,1)' font-family='"Liberation Serif", serif' font-size='67.5'>200</text>
<text transform='translate(277.5,1333.5) scale(0.985,1)' font-family='"Liberation Serif", serif' font-size='67.5' text-anchor='middle'>0</text>
<text transform='translate(653.6,1333.5) scale(0.985,1)' font-family='"Liberation Serif", serif' font-size='67.5' text-anchor='middle'>100</text>
<text transform='translate(1029.8,1333.5) scale(0.985,1)' font-family='"Liberation Serif", serif' font-size='67.5' text-anchor='middle'>200</text>
<text transform='translate(1405.9,1333.5) scale(0.985,1)' font-family='"Liberation Serif", serif' font-size='67.5' text-anchor='middle'>300</text>
<text transform='translate(1782.1,1333.5) scale(0.985,1)' font-family='"Liberation Serif", serif' font-size='67.5' text-anchor='middle'>400</text>
<text transform='translate(2158.2,1333.5) scale(0.985,1)' font-family='"Liberation Serif", serif' font-size='67.5' text-anchor='middle'>500</text>
<text transform='translate(589.00,146.50) scale(0.9922,1)' font-family='"Liberation Serif", serif' font-size='67.5'>Weight</text>
<text transform='translate(804.95,146.50) scale(0.9539,1)' font-family='"Liberation Serif", serif' font-size='67.5'>loss</text>
<text transform='translate(927.33,146.50) scale(1.0326,1)' font-family='"Liberation Serif", serif' font-size='67.5'>at</text>
<text transform='translate(995.85,146.50) scale(0.9914,1)' font-family='"Liberation Serif", serif' font-size='67.5'>100</text>
<text transform='translate(1096.78,149.00) scale(1.0737,1)' font-family='"IPAGothic", "Noto Serif CJK SC", "Liberation Serif", serif' font-size='67.5'>℃</text>
<text transform='translate(1169.11,146.50) scale(0.9375,1)' font-family='"Liberation Serif", serif' font-size='67.5'>:</text>
<text transform='translate(1199.22,146.50) scale(1.0272,1)' font-family='"Liberation Serif", serif' font-size='67.5'>25.6%</text>
<text transform='translate(1843.04,126.90) scale(0.9805,1)' font-family='"Liberation Serif", serif' font-size='67.5'>MAX</text>
<text transform='translate(1798.69,203.00) scale(1.0034,1)' font-family='"Liberation Serif", serif' font-size='67.5'>575.5</text>
<text transform='translate(1954.23,203.00) scale(0.9949,1)' font-family='"Liberation Serif", serif' font-size='67.5'>μV</text>
<text transform='translate(1756.46,562.70) scale(1.0703,1)' font-family='"Liberation Serif", serif' font-size='53.0'>Char</text>
<text transform='translate(1756.68,625.00) scale(1.0580,1)' font-family='"Liberation Serif", serif' font-size='53.0'>combustion</text>
<text transform='translate(657.66,779.50) scale(0.9398,1)' font-family='"Liberation Serif", serif' font-size='57.0'>Thermal</text>
<text transform='translate(865.41,779.50) scale(0.9943,1)' font-family='"Liberation Serif", serif' font-size='57.0'>decomposition</text>
<text transform='translate(1221.60,779.50) scale(1.0978,1)' font-family='"Liberation Serif", serif' font-size='57.0'>of</text>
<text transform='translate(655.31,845.20) scale(0.9934,1)' font-family='"Liberation Serif", serif' font-size='57.0'>organic</text>
<text transform='translate(842.81,845.20) scale(0.9959,1)' font-family='"Liberation Serif", serif' font-size='57.0'>components</text>
<text transform='translate(672.92,1127.60) scale(0.9912,1)' font-family='"Liberation Serif", serif' font-size='67.5'>Decomposition</text>
<text transform='translate(1110.02,1127.60) scale(0.9821,1)' font-family='"Liberation Serif", serif' font-size='67.5'>temperature:</text>
<text transform='translate(1472.07,1127.60) scale(1.0042,1)' font-family='"Liberation Serif", serif' font-size='67.5'>172.9</text>
<text transform='translate(1624.74,1130.10) scale(1.0544,1)' font-family='"IPAGothic", "Noto Serif CJK SC", "Liberation Serif", serif' font-size='67.5'>℃</text>
<text transform='translate(1083.50,1409.10) scale(1.0033,1)' font-family='"Liberation Serif", serif' font-size='67.0'>Temperature</text>
<text transform='translate(1442.12,1409.10) scale(0.9941,1)' font-family='"Liberation Serif", serif' font-size='67.0'>(</text>
<text transform='translate(1464.04,1411.60) scale(1.1214,1)' font-family='"IPAGothic", "Noto Serif CJK SC", "Liberation Serif", serif' font-size='67.0'>℃</text>
<text transform='translate(1534.47,1409.10) scale(1.0647,1)' font-family='"Liberation Serif", serif' font-size='67.0'>)</text>
<text transform='translate(84.50,857.40) rotate(-90) scale(0.9420,1)' font-family='"Liberation Serif", serif' font-size='67.5'>Weight</text>
<text transform='translate(84.50,650.85) rotate(-90) scale(0.9451,1)' font-family='"Liberation Serif", serif' font-size='67.5'>loss</text>
<text transform='translate(84.50,530.91) rotate(-90) scale(0.9716,1)' font-family='"Liberation Serif", serif' font-size='67.5'>(%)</text>
<text transform='translate(2397.70,881.94) rotate(-90) scale(0.9688,1)' font-family='"Liberation Serif", serif' font-size='67.5'>Heat</text>
<text transform='translate(2397.70,735.82) rotate(-90) scale(0.9115,1)' font-family='"Liberation Serif", serif' font-size='67.5'>flow</text>
<text transform='translate(2397.70,598.92) rotate(-90) scale(0.9718,1)' font-family='"Liberation Serif", serif' font-size='67.5'>(μV)</text>
</g>
</svg></body></html>
